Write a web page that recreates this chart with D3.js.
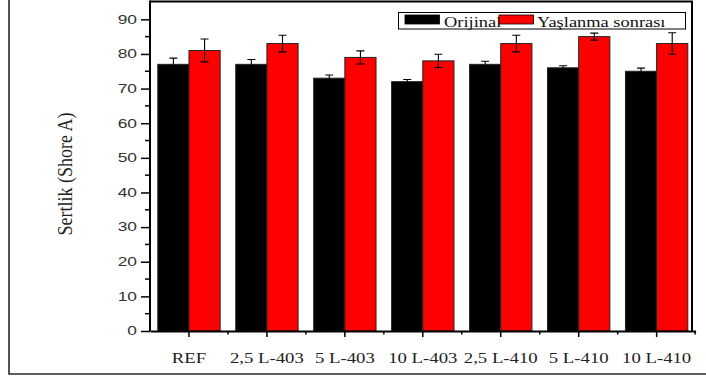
<!DOCTYPE html>
<html>
<head>
<meta charset="utf-8">
<script src="https://cdn.jsdelivr.net/npm/d3@7/dist/d3.min.js"></script>
<style>
  body { margin: 0; background: #fff; }
  svg { display: block; }
</style>
</head>
<body>
<div id="chart"></div>
<script>
// data
var categories = ["REF", "2,5 L-403", "5 L-403", "10 L-403", "2,5 L-410", "5 L-410", "10 L-410"];
var seriesNames = ["Orijinal", "Yaşlanma sonrası"];
var orijinal = [77, 77, 73, 72, 77, 76, 75];
var orijinalErr = [1.8, 1.4, 0.9, 0.6, 0.9, 0.6, 0.9];
var yaslanma = [81, 83, 79, 78, 83, 85, 83];
var yaslanmaErr = [3.3, 2.4, 1.9, 1.9, 2.4, 1.0, 3.1];
var yTicks = [0, 10, 20, 30, 40, 50, 60, 70, 80, 90];
var yMinorTicks = [5, 15, 25, 35, 45, 55, 65, 75, 85];
var colors = ["#000000", "#ff0000"];

var W = 706, H = 377;
var plotLeft = 150, plotTop = 2, plotBottom = 331, axisRight = 695.6, frameRight = 692;

var svg = d3.select("#chart").append("svg")
    .attr("width", W)
    .attr("height", H);

// outer frame (left and bottom visible)
svg.append("path")
    .attr("d", "M9,0V374H706")
    .attr("fill", "none")
    .attr("stroke", "#2a2a2a")
    .attr("stroke-width", 1.6);

// scales
var x = d3.scaleBand()
    .domain(categories)
    .range([plotLeft, axisRight])
    .paddingInner(0.2)
    .paddingOuter(0.1);

var xSub = d3.scaleBand()
    .domain(seriesNames)
    .range([0, x.bandwidth()]);

var y = d3.scaleLinear()
    .domain([0, 95])
    .range([plotBottom, plotTop]);

// build rows
var rows = [];
categories.forEach(function(c, i) {
    rows.push({cat: c, s: seriesNames[0], v: orijinal[i], e: orijinalErr[i], col: colors[0]});
    rows.push({cat: c, s: seriesNames[1], v: yaslanma[i], e: yaslanmaErr[i], col: colors[1]});
});

// bars
svg.append("g").selectAll("rect")
    .data(rows)
    .enter().append("rect")
    .attr("x", function(d) { return x(d.cat) + xSub(d.s); })
    .attr("y", function(d) { return y(d.v); })
    .attr("width", xSub.bandwidth())
    .attr("height", function(d) { return plotBottom - y(d.v); })
    .attr("fill", function(d) { return d.col; })
    .attr("stroke", "#222")
    .attr("stroke-width", 1);

// error bars
var eg = svg.append("g").attr("stroke", "#000").attr("stroke-width", 1.1).attr("fill", "none");
eg.selectAll("path")
    .data(rows)
    .enter().append("path")
    .attr("d", function(d) {
        var cx = x(d.cat) + xSub(d.s) + xSub.bandwidth() / 2;
        var y1 = y(d.v + d.e), y0 = y(d.v - d.e);
        return "M" + (cx - 4) + "," + y1 + "H" + (cx + 4) +
               "M" + cx + "," + y1 + "V" + y0 +
               "M" + (cx - 4) + "," + y0 + "H" + (cx + 4);
    });

// plot frame top and right
svg.append("path")
    .attr("d", "M" + plotLeft + "," + (plotTop - 0.5) + "H" + frameRight + "V" + plotBottom)
    .attr("fill", "none")
    .attr("stroke", "#000")
    .attr("stroke-width", 2);

// y axis
var yAxis = svg.append("g")
    .attr("transform", "translate(" + plotLeft + ",0)")
    .call(d3.axisLeft(y).tickValues(yTicks).tickSize(9).tickPadding(3));
yAxis.select(".domain").attr("stroke-width", 2).attr("d", "M0," + plotBottom + "V" + (plotTop - 1.5));
yAxis.selectAll(".tick line").attr("stroke-width", 1.5);
yAxis.selectAll(".tick text")
    .attr("font-family", "Liberation Sans, Arial, sans-serif")
    .attr("font-size", 12)
    .attr("fill", "#333")
    .attr("x", -13 / 1.45)
    .attr("transform", "scale(1.45,1)");
svg.append("g").selectAll("line")
    .data(yMinorTicks)
    .enter().append("line")
    .attr("x1", plotLeft - 5).attr("x2", plotLeft)
    .attr("y1", function(d) { return y(d); })
    .attr("y2", function(d) { return y(d); })
    .attr("stroke", "#000")
    .attr("stroke-width", 1.5);

// x axis
var xAxis = svg.append("g")
    .attr("transform", "translate(0," + plotBottom + ")")
    .call(d3.axisBottom(x).tickSize(6).tickSizeOuter(0));
xAxis.select(".domain").attr("stroke-width", 2);
xAxis.selectAll(".tick line").attr("stroke-width", 1.5);
xAxis.selectAll(".tick text")
    .attr("font-family", "Liberation Serif, Times New Roman, serif")
    .attr("font-size", 15)
    .attr("fill", "#222")
    .attr("y", 32)
    .attr("dy", 0)
    .attr("transform", "scale(1.25,1)");
// minor ticks between categories
var minorX = [];
for (var i = 1; i < categories.length; i++) minorX.push((x(categories[i - 1]) + x(categories[i]) + x.bandwidth()) / 2);
minorX.push(axisRight - 0.5);
svg.append("g").selectAll("line")
    .data(minorX)
    .enter().append("line")
    .attr("x1", function(d) { return d; }).attr("x2", function(d) { return d; })
    .attr("y1", plotBottom).attr("y2", plotBottom + 3.5)
    .attr("stroke", "#000")
    .attr("stroke-width", 1.5);

// y title
svg.append("text")
    .attr("transform", "translate(72,174) rotate(-90) scale(1,1.15)")
    .attr("text-anchor", "middle")
    .attr("font-family", "Liberation Serif, Times New Roman, serif")
    .attr("font-size", 18)
    .attr("fill", "#222")
    .text("Sertlik (Shore A)");

// legend
var lg = svg.append("g");
lg.append("rect")
    .attr("x", 398.5).attr("y", 12.5)
    .attr("width", 287).attr("height", 16.5)
    .attr("fill", "#fff")
    .attr("stroke", "#000")
    .attr("stroke-width", 1);
var legendX = [405, 499];
var legendTextX = [444, 537];
seriesNames.forEach(function(s, i) {
    lg.append("rect")
        .attr("x", legendX[i]).attr("y", 15)
        .attr("width", 34.5).attr("height", 9)
        .attr("fill", colors[i])
        .attr("stroke", "#000")
        .attr("stroke-width", 0.8);
    lg.append("text")
        .attr("transform", "translate(" + legendTextX[i] + ",27) scale(1.27,1)")
        .attr("font-family", "Liberation Serif, Times New Roman, serif")
        .attr("font-size", 14.5)
        .attr("fill", "#111")
        .text(s);
});
</script>
</body>
</html>
